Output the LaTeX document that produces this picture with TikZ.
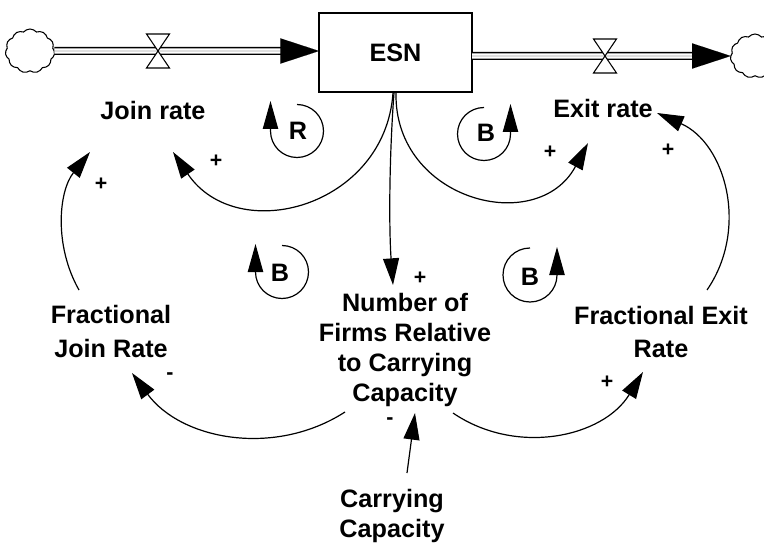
\documentclass[tikz,border=0pt]{standalone}
\usepackage{fontspec}
\setmainfont{Liberation Sans}
\usetikzlibrary{arrows.meta,shapes.symbols,calc}

\begin{document}
\begin{tikzpicture}[x=0.75pt,y=-0.75pt,
  every node/.style={inner sep=0pt, outer sep=0pt},
  lbl/.style={font=\bfseries\fontsize{18.9}{22.5}\selectfont, align=center},
  sign/.style={font=\bfseries\fontsize{16}{16}\selectfont},
  stock/.style={draw, line width=1.1pt, minimum width=114.75pt, minimum height=59.25pt,
    font=\bfseries\fontsize{18.9}{22.5}\selectfont},
  pipe/.style={double, double distance=3.8pt, line width=1.1pt},
  flowtip/.style={-{Triangle[length=29pt,width=19pt]}, line width=0.01pt},
  link/.style={line width=0.9pt, -{Triangle[length=20pt,width=12pt]}},
  loopline/.style={line width=0.9pt, -{Triangle[length=21pt,width=11.5pt]}},
  cloudy/.style={cloud, cloud puffs=11, cloud puff arc=100, cloud ignores aspect,
    draw, line width=0.8pt, minimum width=37pt, minimum height=33pt},
  valvepart/.style={draw, fill=white, line width=0.8pt}
]
\useasboundingbox (0,0) rectangle (764,549);

% ---- stock and flows -------------------------------------------------
\node[stock] (esn) at (395.5,52.5) {ESN};
\node[cloudy] (srcL) at (30,51) {};
\node[cloudy] (sinkR) at (755,56) {};

\coordinate (inL) at (esn.west |- srcL);
\coordinate (outR) at (esn.east |- sinkR);

\draw[pipe, shorten >=27pt] (srcL.east) -- (inL);
\draw[flowtip] (srcL.east) -- (inL);
\draw[pipe, shorten >=29pt] (outR) -- (sinkR.west);
\draw[flowtip] (outR) -- (sinkR.west);

% valves (bow-tie symbols on the pipes)
\coordinate (valveL) at (158,51);
\coordinate (valveR) at (605,56);
\foreach \v in {valveL,valveR}{
  \draw[valvepart] (\v) -- ++(-11.5,-17) -- ++(23,0) -- cycle;
  \draw[valvepart] (\v) -- ++(-11.5,17) -- ++(23,0) -- cycle;
}

% ---- variables -------------------------------------------------------
\node[lbl] (join) at (153,110) {Join rate};
\node[lbl] (exit) at (603,108.5) {Exit rate};
\node[lbl, font=\bfseries\fontsize{18.9}{25.5}\selectfont] (fjr) at (111,331) {Fractional\\Join Rate};
\node[lbl, font=\bfseries\fontsize{18.9}{25}\selectfont] (fer) at (661,332) {Fractional Exit\\Rate};
\node[lbl] (nfr) at (405,350) {Number of\\Firms Relative\\to Carrying\\Capacity};
\node[lbl, font=\bfseries\fontsize{18.9}{22}\selectfont] (cc) at (392,516) {Carrying\\Capacity};

% ---- connector end points ---------------------------------------------
\coordinate (esnA) at (393,93);
\coordinate (esnB) at (396,93);
\coordinate (esnC) at (394,93);
\coordinate (joinIn) at (173,152);
\coordinate (joinIn2) at (90,152);
\coordinate (exitIn) at (588,143);
\coordinate (exitIn2) at (657,113);
\coordinate (nfrIn) at (393,285);
\coordinate (nfrIn2) at (415,413);
\coordinate (nfrOutL) at (345,412);
\coordinate (nfrOutR) at (453,413);
\coordinate (fjrOut) at (79,290);
\coordinate (fjrIn) at (132,373);
\coordinate (ferOut) at (707,290);
\coordinate (ferIn) at (643,372);
\coordinate (ccOut) at (407,473);

% ---- causal links ------------------------------------------------------
\draw[link] (esnA) .. controls (385,207.3) and (237.1,247) .. (joinIn);
\draw[link] (esnB) .. controls (394,200.2) and (537.5,237.5) .. (exitIn);
\draw[link] (esnC) .. controls (389,160) and (389,230) .. (nfrIn);
\draw[link] (fjrOut) .. controls (54,246) and (58.4,191.5) .. (joinIn2);
\draw[link] (ferOut) .. controls (749.4,228.3) and (725.4,143.3) .. (exitIn2);
\draw[link] (nfrOutL) .. controls (274.9,457.2) and (181.5,440.1) .. (fjrIn);
\draw[link] (nfrOutR) .. controls (516.3,456.2) and (603.1,437.4) .. (ferIn);
\draw[link] (ccOut) -- (nfrIn2);

% polarities
\node[sign] at (216,161) {+};
\node[sign] at (101,184) {+};
\node[sign] at (550,152) {+};
\node[sign] at (668,150) {+};
\node[sign] at (420,278) {+};
\node[sign] at (170,376) {-};
\node[sign] at (607,382) {+};
\node[sign] at (390,421) {-};

% ---- loop markers ------------------------------------------------------
\coordinate (loopR) at (297,131);
\coordinate (loopB1) at (484,134);
\coordinate (loopB2) at (282,272);
\coordinate (loopB3) at (530,275);

\draw[loopline] ($(loopR)+(0,-26.5)$) arc[start angle=-90,end angle=180,radius=26.5] -- ++(0,-30);
\draw[loopline] ($(loopB1)+(0,-26.5)$) arc[start angle=270,end angle=0,radius=26.5] -- ++(0,-30);
\draw[loopline] ($(loopB2)+(0,-26.5)$) arc[start angle=-90,end angle=180,radius=26.5] -- ++(0,-28);
\draw[loopline] ($(loopB3)+(0,-27)$) arc[start angle=270,end angle=0,radius=27] -- ++(0,-28);

\node[lbl] at ($(loopR)+(1,0)$) {R};
\node[lbl] at ($(loopB1)+(2,-1)$) {B};
\node[lbl] at ($(loopB2)+(-2,1)$) {B};
\node[lbl] at ($(loopB3)+(0,2)$) {B};
\end{tikzpicture}
\end{document}
